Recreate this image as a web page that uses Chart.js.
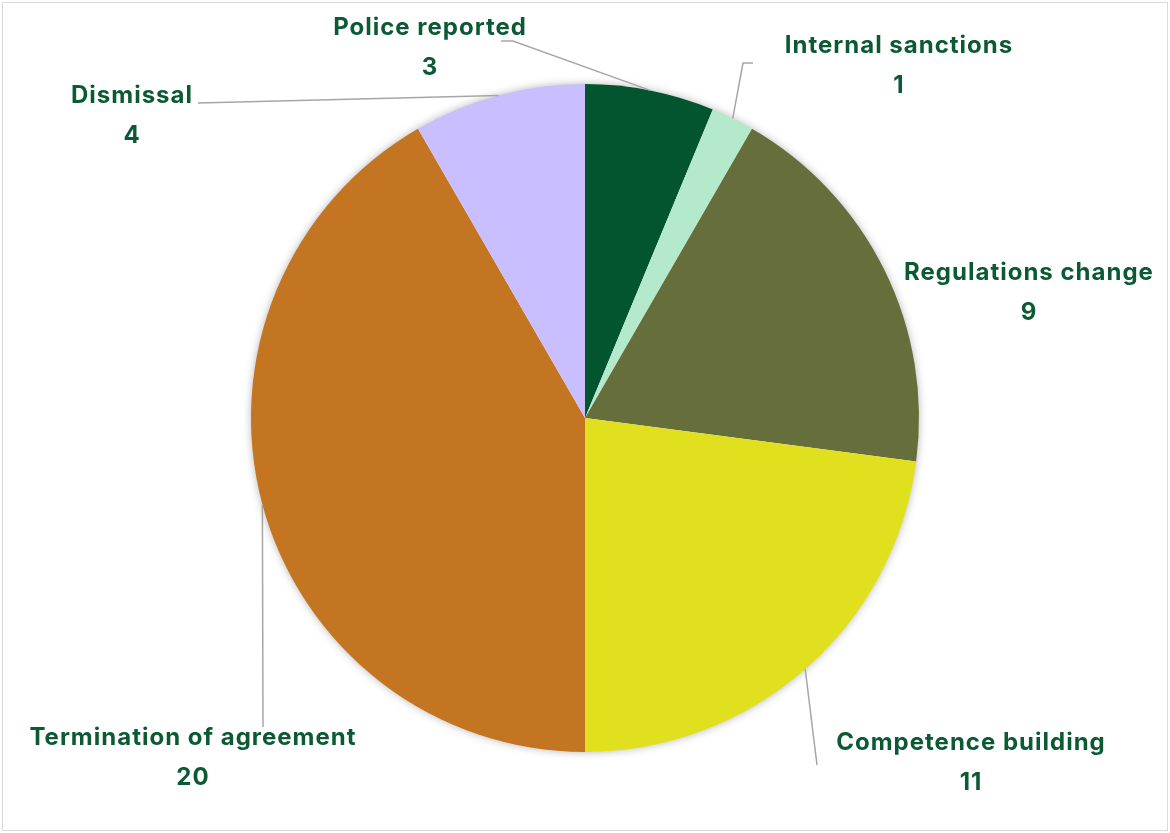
<!DOCTYPE html>
<html>
<head>
<meta charset="utf-8">
<script src="https://cdn.jsdelivr.net/npm/chart.js@4/dist/chart.umd.min.js"></script>
<style>
  html, body { margin: 0; padding: 0; background: #fff; }
  #wrap { width: 1170px; height: 833px; position: relative; }
</style>
</head>
<body>
<div id="wrap"><canvas id="chart"></canvas></div>
<script>
// data
const categories = ['Police reported', 'Internal sanctions', 'Regulations change', 'Competence building', 'Termination of agreement', 'Dismissal'];
const values = [3, 1, 9, 11, 20, 4];
const colors = ['#03552F', '#B5E9CB', '#666E3C', '#E1E01F', '#C47521', '#C9BEFF'];

// label placement (x centre, baseline of first line) and leader elbows
const labelPos = [
    { x: 430, y: 35, path: [[513, 41], [501, 41]] },
    { x: 899, y: 53, path: [[743, 63], [753, 63]] },
    { x: 1029, y: 280, path: null },
    { x: 971, y: 750, path: [[817, 765]] },
    { x: 193, y: 745, path: [[263, 727]] },
    { x: 132, y: 103, path: [[198, 103]] }
];

const labelPlugin = {
    id: 'pieLabels',
    beforeDatasetsDraw(chart) {
        // soft shadow behind the pie
        const arc = chart.getDatasetMeta(0).data[0];
        const ctx = chart.ctx;
        ctx.save();
        ctx.shadowColor = 'rgba(0,0,0,0.35)';
        ctx.shadowBlur = 10;
        ctx.fillStyle = '#fff';
        ctx.beginPath();
        ctx.arc(arc.x, arc.y, arc.outerRadius - 1, 0, Math.PI * 2);
        ctx.fill();
        ctx.restore();
    },
    afterDraw(chart) {
        const ctx = chart.ctx;
        const meta = chart.getDatasetMeta(0);
        ctx.save();
        // frame
        ctx.strokeStyle = '#D9D9D9';
        ctx.lineWidth = 1;
        ctx.strokeRect(2.5, 2.5, 1165, 828);

        meta.data.forEach((a, i) => {
            const lp = labelPos[i];
            if (lp.path) {
                const mid = (a.startAngle + a.endAngle) / 2;
                const sx = a.x + Math.cos(mid) * a.outerRadius;
                const sy = a.y + Math.sin(mid) * a.outerRadius;
                ctx.strokeStyle = '#A6A6A6';
                ctx.lineWidth = 1.5;
                ctx.beginPath();
                ctx.moveTo(sx, sy);
                lp.path.forEach(p => ctx.lineTo(p[0], p[1]));
                ctx.stroke();
            }
            ctx.fillStyle = '#0B5A33';
            ctx.font = 'bold 24px Inter';
            ctx.letterSpacing = '1px';
            ctx.textAlign = 'center';
            ctx.textBaseline = 'alphabetic';
            ctx.fillText(categories[i], lp.x, lp.y);
            ctx.fillText(String(values[i]), lp.x, lp.y + 40);
        });
        ctx.restore();
    }
};

new Chart(document.getElementById('chart'), {
    type: 'pie',
    data: {
        labels: categories,
        datasets: [{
            data: values,
            backgroundColor: colors,
            borderWidth: 0
        }]
    },
    options: {
        responsive: true,
        maintainAspectRatio: false,
        animation: false,
        layout: { padding: { top: 84, bottom: 81, left: 0, right: 0 } },
        plugins: {
            legend: { display: false },
            tooltip: { enabled: false }
        }
    },
    plugins: [labelPlugin]
});
</script>
</body>
</html>
